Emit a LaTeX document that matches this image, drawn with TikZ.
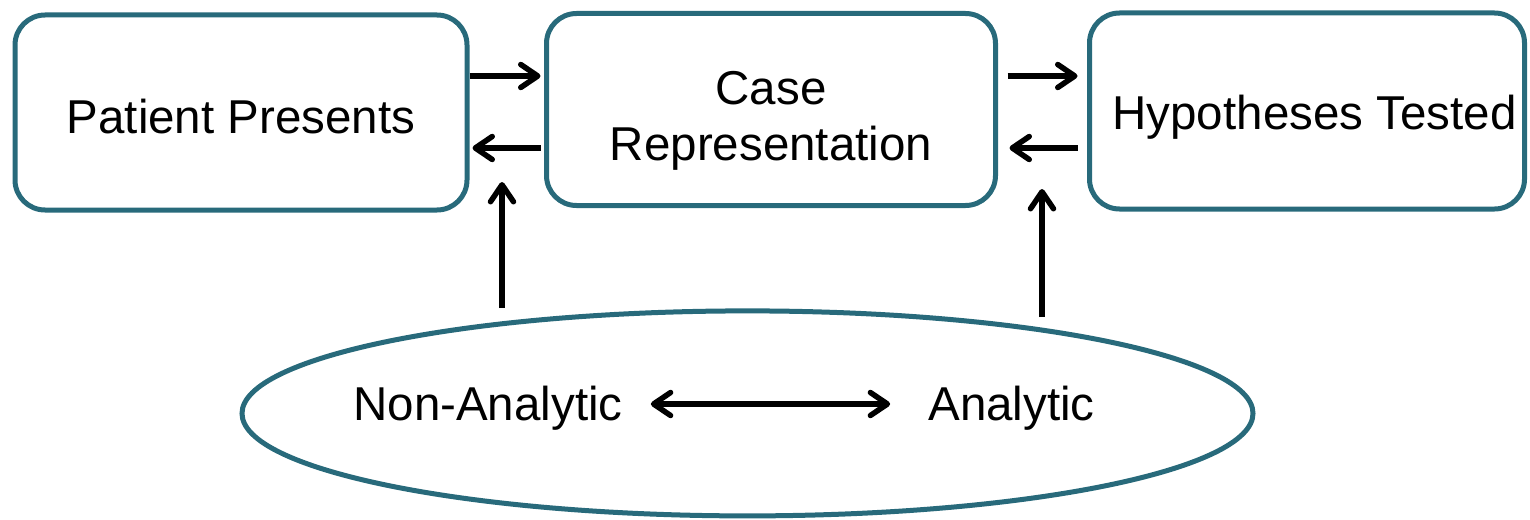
\documentclass[tikz,border=0pt]{standalone}
\usepackage{fontspec}
\setmainfont{Liberation Sans}
\usetikzlibrary{arrows.meta,calc,shapes.geometric}
\definecolor{frame}{RGB}{40,106,123}
\begin{document}
\begin{tikzpicture}[x=1pt,y=-1pt,
  every node/.style={font=\fontsize{47.5pt}{56pt}\selectfont, inner sep=0pt},
  stagebox/.style={draw=frame, line width=5pt, rounded corners=30pt},
  modes/.style={draw=frame, line width=5pt, ellipse},
  barb/.tip={Straight Barb[length=17pt,width=23pt,round]},
  flow/.style={line width=5.5pt, -barb},
  both/.style={line width=5.5pt, barb-barb}]
\useasboundingbox (0,0) rectangle (1530,519);

% the three stages of the diagnostic process
\node[stagebox, minimum width=452pt, minimum height=195pt,
      text height=41pt, text depth=0pt] (p) at (241,112.5) {Patient Presents};
\node[stagebox, minimum width=449pt, minimum height=192pt, align=center]
      (c) at (771,109.5) {\rule{0pt}{56pt}Case\\Representation};
\node[stagebox, minimum width=435pt, minimum height=196pt,
      text height=46pt, text depth=10pt] (h) at (1307,111) {\hspace*{15pt}Hypotheses Tested};

% reasoning modes
\node[modes, minimum width=1011pt, minimum height=205pt] (e) at (747.5,413.4) {};
\node[anchor=base, text height=32pt, text depth=0pt] (na) at (488,420) {Non-Analytic};
\node[anchor=base, text height=32pt, text depth=0pt] (an) at (1011.5,420) {Analytic};

% levels of the two rows of arrows between the stages
\coordinate (upper) at (0,76);
\coordinate (lower) at (0,148);

\draw[flow, shorten >=3.5pt] (p.east |- upper) -- (c.west |- upper);
\draw[flow, shorten <=3.5pt, shorten >=3pt] (c.west |- lower) -- (p.east |- lower);
\draw[flow, shorten <=9.5pt, shorten >=9.5pt] (c.east |- upper) -- (h.west |- upper);
\draw[flow, shorten <=9.5pt, shorten >=11.5pt] (h.west |- lower) -- (c.east |- lower);

% influence of the reasoning modes on the stages
\coordinate (s1) at (502,308);
\coordinate (t1) at (502,182);
\coordinate (s2) at (1042,317);
\coordinate (t2) at (1042,189);
\draw[flow] (s1) -- (t1);
\draw[flow] (s2) -- (t2);

\draw[both, shorten <=28pt, shorten >=38pt] (na.east) -- (an.west);
\end{tikzpicture}
\end{document}
